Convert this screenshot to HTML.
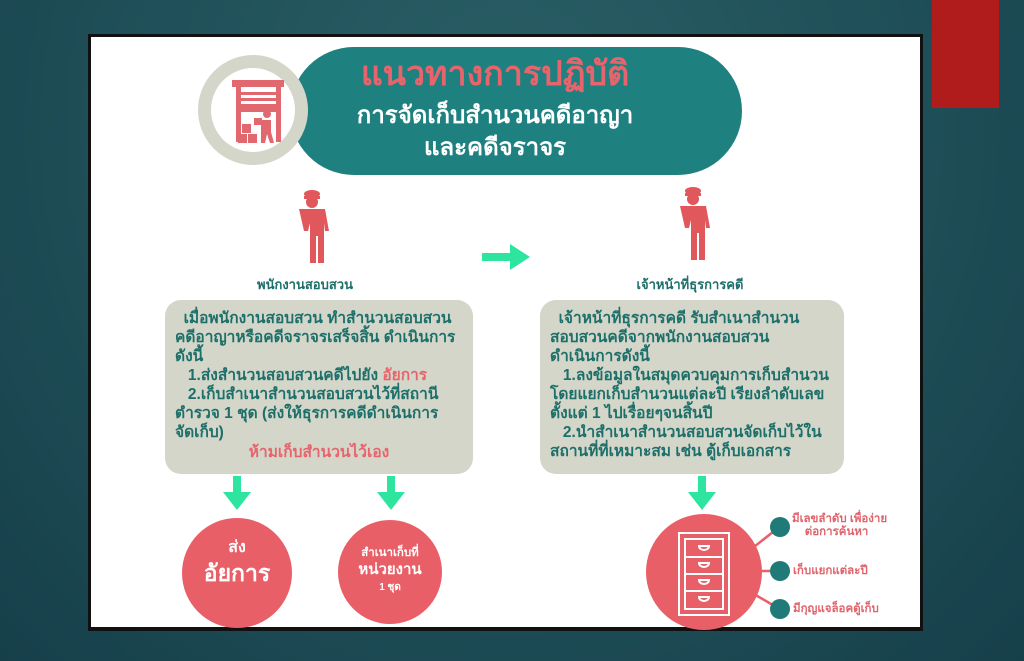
<!DOCTYPE html>
<html><head><meta charset="utf-8"><style>
*{margin:0;padding:0;box-sizing:border-box}
body{width:1024px;height:661px;overflow:hidden;background:radial-gradient(ellipse at 50% 20%,#2a5f66 0%,#1f4f58 55%,#163f4a 100%);position:relative;font-family:"Liberation Sans","Noto Sans CJK SC",sans-serif}
.a{position:absolute}
#panel{left:88px;top:34px;width:835px;height:597px;background:#fff;border:3px solid #111;border-bottom-width:4px}
.box{background:#d3d6c9;border-radius:16px;color:#1d6f6a;font-weight:bold;font-size:15.5px;line-height:19px;padding:9px 10px;white-space:nowrap}
.ct{color:#fff;text-align:center;font-weight:bold}
.lab{color:#e0646c;font-size:11.5px;font-weight:bold;line-height:13px}
</style></head><body>
<div class="a" style="left:932px;top:0;width:67px;height:108px;background:#b01c1c"></div>
<div class="a" id="panel"></div>
<div class="a" style="left:290px;top:47px;width:452px;height:128px;background:#1f8080;border-radius:64px"></div>
<div class="a" style="left:198px;top:55px;width:110px;height:110px;border-radius:50%;background:#fff;border:13px solid #d3d6c9"></div>
<svg class="a" style="left:228px;top:78px" width="60" height="70" viewBox="0 0 60 70">
<rect x="4" y="2" width="52" height="7" fill="#e0686e"/>
<rect x="8" y="9" width="5" height="55" fill="#e0686e"/><rect x="48" y="9" width="5" height="55" fill="#e0686e"/>
<rect x="13" y="14" width="35" height="3" fill="#e0686e"/><rect x="13" y="20" width="35" height="3" fill="#e0686e"/>
<rect x="13" y="26" width="35" height="8" fill="#e0686e"/>
<rect x="14" y="46" width="9" height="9" fill="#e0686e"/><rect x="10" y="56" width="9" height="9" fill="#e0686e"/><rect x="20" y="56" width="9" height="9" fill="#e0686e"/>
<circle cx="39" cy="36" r="4" fill="#e0686e"/><path d="M33 42h10v12l3 11h-4l-3-9-2 9h-4z" fill="#e0686e"/><rect x="26" y="40" width="8" height="7" fill="#e0686e"/>
</svg>
<div class="a" style="left:320px;top:54px;width:350px;text-align:center;color:#e8646c;font-weight:bold;font-size:34px;line-height:40px">แนวทางการปฏิบัติ</div>
<div class="a ct" style="left:310px;top:100px;width:370px;font-size:24px;line-height:32px">การจัดเก็บสำนวนคดีอาญา<br>และคดีจราจร</div>
<svg class="a" style="left:290px;top:188px" width="44" height="76" viewBox="0 0 40 76"><g fill="#e0585c">
<ellipse cx="20" cy="6" rx="8" ry="4"/><rect x="12" y="8" width="16" height="3"/><circle cx="20" cy="14" r="6"/>
<path d="M7 21h26l4 22-4 0-1-8v40h-6V48h-2v27h-6V35l-2 8h-4z"/></g></svg>
<svg class="a" style="left:671px;top:185px" width="44" height="76" viewBox="0 0 40 76"><g fill="#e0585c">
<ellipse cx="20" cy="6" rx="8" ry="4"/><rect x="12" y="8" width="16" height="3"/><circle cx="20" cy="14" r="6"/>
<path d="M7 21h26l4 22-4 0-1-8v40h-6V48h-2v27h-6V35l-2 8h-4z"/></g></svg>
<div class="a" style="left:245px;top:274px;width:120px;text-align:center;color:#1d6f6a;font-weight:bold;font-size:13px">พนักงานสอบสวน</div>
<div class="a" style="left:620px;top:274px;width:140px;text-align:center;color:#1d6f6a;font-weight:bold;font-size:13px">เจ้าหน้าที่ธุรการคดี</div>
<svg class="a" style="left:480px;top:242px" width="52" height="30"><path d="M2 11h28V2l20 13-20 13v-9H2z" fill="#2ee5a0"/></svg>
<div class="a box" style="left:165px;top:300px;width:308px;height:174px">&nbsp;&nbsp;เมื่อพนักงานสอบสวน ทำสำนวนสอบสวน<br>คดีอาญาหรือคดีจราจรเสร็จสิ้น ดำเนินการ<br>ดังนี้<br>&nbsp;&nbsp;&nbsp;1.ส่งสำนวนสอบสวนคดีไปยัง <span style="color:#e8646c">อัยการ</span><br>&nbsp;&nbsp;&nbsp;2.เก็บสำเนาสำนวนสอบสวนไว้ที่สถานี<br>ตำรวจ 1 ชุด (ส่งให้ธุรการคดีดำเนินการ<br>จัดเก็บ)<div style="text-align:center;color:#e8646c;margin-top:1px">ห้ามเก็บสำนวนไว้เอง</div></div>
<div class="a box" style="left:540px;top:300px;width:304px;height:174px">&nbsp;&nbsp;เจ้าหน้าที่ธุรการคดี รับสำเนาสำนวน<br>สอบสวนคดีจากพนักงานสอบสวน<br>ดำเนินการดังนี้<br>&nbsp;&nbsp;&nbsp;1.ลงข้อมูลในสมุดควบคุมการเก็บสำนวน<br>โดยแยกเก็บสำนวนแต่ละปี เรียงลำดับเลข<br>ตั้งแต่ 1 ไปเรื่อยๆจนสิ้นปี<br>&nbsp;&nbsp;&nbsp;2.นำสำเนาสำนวนสอบสวนจัดเก็บไว้ใน<br>สถานที่ที่เหมาะสม เช่น ตู้เก็บเอกสาร</div>
<svg class="a" style="left:221px;top:476px" width="32" height="36"><path d="M12 0h8v16h10L16 34 2 16h10z" fill="#2ee5a0"/></svg>
<svg class="a" style="left:375px;top:476px" width="32" height="36"><path d="M12 0h8v16h10L16 34 2 16h10z" fill="#2ee5a0"/></svg>
<svg class="a" style="left:686px;top:476px" width="32" height="36"><path d="M12 0h8v16h10L16 34 2 16h10z" fill="#2ee5a0"/></svg>
<div class="a" style="left:182px;top:518px;width:110px;height:110px;border-radius:50%;background:#e95f68"></div>
<div class="a ct" style="left:182px;top:538px;width:110px;font-size:16px;line-height:20px">ส่ง<br><span style="font-size:23px;line-height:30px">อัยการ</span></div>
<div class="a" style="left:338px;top:520px;width:104px;height:104px;border-radius:50%;background:#e95f68"></div>
<div class="a ct" style="left:338px;top:545px;width:104px;font-size:11.5px;line-height:16px">สำเนาเก็บที่<br><span style="font-size:15px;line-height:18px">หน่วยงาน</span><br><span style="font-size:10px">1 ชุด</span></div>
<svg class="a" style="left:640px;top:508px" width="160" height="124">
<g stroke="#e95f68" stroke-width="2.5"><line x1="100" y1="50" x2="138" y2="20"/><line x1="100" y1="63" x2="138" y2="63"/><line x1="100" y1="78" x2="138" y2="100"/></g>
<circle cx="64" cy="64" r="58" fill="#e95f68"/>
<g fill="none" stroke="#fff" stroke-width="2"><rect x="39" y="25" width="50" height="82"/><rect x="45" y="31" width="38" height="70"/>
<line x1="45" y1="49" x2="83" y2="49"/><line x1="45" y1="66" x2="83" y2="66"/><line x1="45" y1="83" x2="83" y2="83"/>
<path d="M59 38h10a5 4 0 0 1-10 0zM59 55h10a5 4 0 0 1-10 0zM59 72h10a5 4 0 0 1-10 0zM59 89h10a5 4 0 0 1-10 0z"/></g>
<circle cx="140" cy="19" r="10" fill="#1f7a78"/><circle cx="140" cy="63" r="10" fill="#1f7a78"/><circle cx="140" cy="101" r="10" fill="#1f7a78"/>
</svg>
<div class="a lab" style="left:792px;top:513px;width:130px">มีเลขลำดับ เพื่อง่าย<br>&nbsp;&nbsp;&nbsp;&nbsp;ต่อการค้นหา</div>
<div class="a lab" style="left:793px;top:565px">เก็บแยกแต่ละปี</div>
<div class="a lab" style="left:793px;top:603px">มีกุญแจล็อคตู้เก็บ</div>
</body></html>
